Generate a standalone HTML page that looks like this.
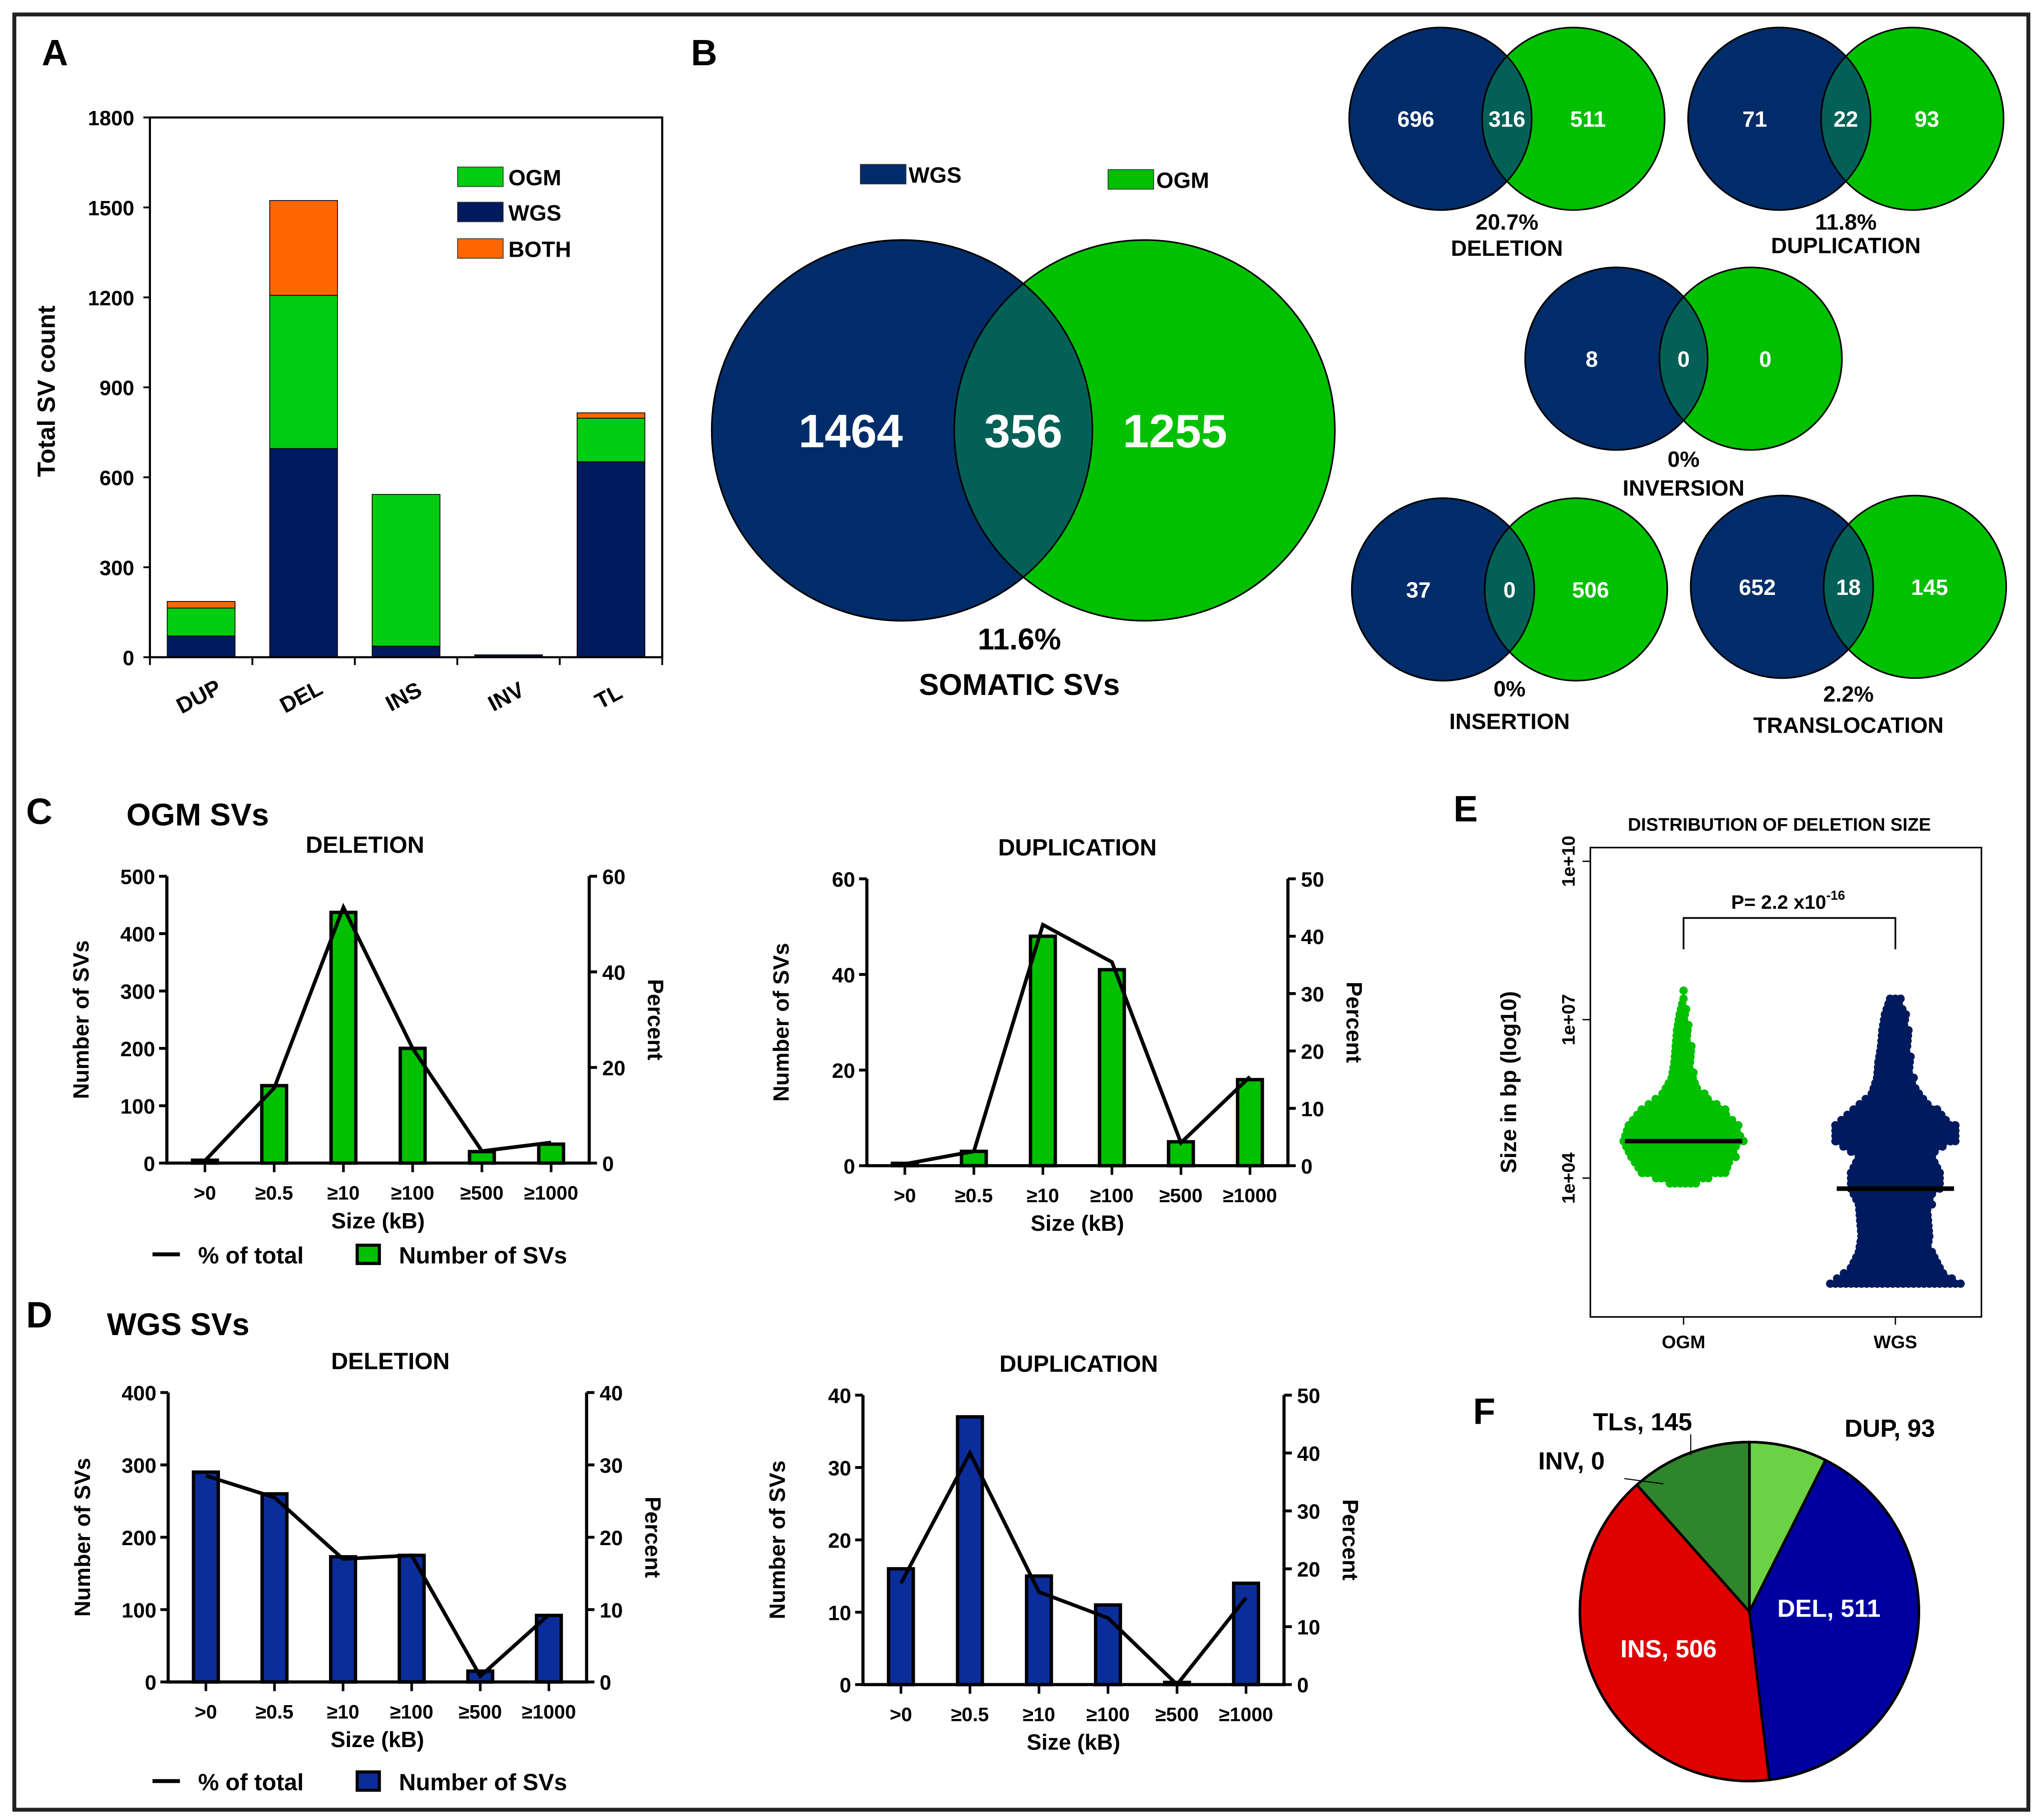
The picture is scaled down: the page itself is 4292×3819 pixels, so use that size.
<!DOCTYPE html>
<html><head><meta charset="utf-8"><style>
html,body{margin:0;padding:0;background:#fff;}
svg{display:block;}
text{font-family:"Liberation Sans",Arial,sans-serif;font-weight:bold;}
</style></head><body>
<svg id="fig" width="4292" height="3819" viewBox="0 0 1568 1395" xmlns="http://www.w3.org/2000/svg">
<rect x="11" y="11" width="1545" height="1377" fill="#fff" stroke="#222" stroke-width="3"/>
<g id="root"></g>
</svg>
<script>
// ---------- Panel A data ----------
const aCats = ["DUP","DEL","INS","INV","TL"];
const aWGS = [71,696,37,8,652];
const aOGM = [93,511,506,0,145];
const aBOTH = [22,316,0,0,18];
const aTicks = [0,300,600,900,1200,1500,1800];
// ---------- Venn data ----------
const vennNames = ["DELETION","DUPLICATION","INVERSION","INSERTION","TRANSLOCATION"];
const vennWGS = [696,71,8,37,652];
const vennBoth = [316,22,0,0,18];
const vennOGM = [511,93,0,506,145];
const vennPct = ["20.7%","11.8%","0%","0%","2.2%"];
// ---------- Size categories ----------
const sizeCats = [">0","≥0.5","≥10","≥100","≥500","≥1000"];
const cDelCounts = [5,135,437,200,20,33];
const cDelPct = [0.5,15.7,53.5,24,2.5,4.3];
const cDupCounts = [0.5,3,48,41,5,18];
const cDupPct = [0.3,2.5,42,35.5,4,15.5];
const dDelCounts = [290,260,173,175,15,92];
const dDelPct = [28.5,25.5,17,17.5,0.8,9.3];
const dDupCounts = [16,37,15,11,0.3,14];
const dDupPct = [17.5,40,16,11.5,0,15];
// ---------- Panel E ----------
const eGroups = ["OGM","WGS"];
const eMedianLog = [4.7,3.8];
const eLevels = [2.0,2.3,2.6,2.9,3.2,3.5,3.8,4.1,4.4,4.7,5.0,5.3,5.6,5.9,6.2,6.5,6.8,7.1,7.4];
const eOGMWidth = [0,0,0,0,0,0,0,32,40,46,42,32,16,9,7,6,5,3,0];
const eWGSWidth = [50,34,28,26,27,28,34,34,28,46,46,32,18,14,13,11,10,8,4];
// ---------- Panel F ----------
const fLabels = ["DUP","DEL","INS","INV","TLs"];
const fValues = [93,511,506,0,145];
const fColors = ["#6ad244","#00009e","#e00000","#2f852b","#2f852b"];

const NS="http://www.w3.org/2000/svg";
const root=document.getElementById('root');
function mk(tag,attrs,parent){const e=document.createElementNS(NS,tag);for(const k in attrs)e.setAttribute(k,attrs[k]);(parent||root).appendChild(e);return e;}
function txt(x,y,s,size,anchor,parent,fill){const e=mk('text',{x:x,y:y,'font-size':size,'text-anchor':anchor||'middle',fill:fill||'#000'},parent);e.textContent=s;return e;}

[["A",32,50],["B",530,50],["C",20,632],["D",20,1018],["E",1115,630],["F",1130,1092]].forEach(p=>{
  const t=txt(p[1],p[2],p[0],28,'start');
  
  
});

// ================= Panel A =================
(function(){
  const g=mk('g',{});
  
  
  const x0=115,x1=508,y0=504,y1=90,max=1800;
  const y=v=>y0-(v/max)*(y0-y1);
  const bw=(x1-x0)/aCats.length;
  const cx=i=>x0+bw*(i+0.5);
  aCats.forEach((c,i)=>{
    let base=0;
    [[aWGS,'#001a5e','wgs'],[aOGM,'#00cc11','ogm'],[aBOTH,'#ff6600','both']].forEach(s=>{
      const v=s[0][i]; if(v<=0) return;
      const r=mk('rect',{x:cx(i)-26,y:y(base+v),width:52,height:y(base)-y(base+v),fill:s[1],stroke:'#000','stroke-width':0.6},g);
      
      
      base+=v;
    });
    const lb=txt(cx(i)-2,540,c,17,'middle',g);
    lb.setAttribute('transform','rotate(-28 '+(cx(i)-2)+' 534)');
    
    
  });
  const fr=mk('rect',{x:x0,y:y1,width:x1-x0,height:y0-y1,fill:'none',stroke:'#000','stroke-width':1.6},g);
  
  
  for(let i=0;i<=aCats.length;i++){mk('line',{x1:x0+bw*i,x2:x0+bw*i,y1:y0,y2:y0+6,stroke:'#000','stroke-width':1.4},g);}
  aTicks.forEach(t=>{
    mk('line',{x1:x0-5,x2:x0,y1:y(t),y2:y(t),stroke:'#000','stroke-width':1.4},g);
    const tl=txt(x0-12,y(t)+6,String(t),16,'end',g);
    
    
  });
  const yt=txt(42,300,'Total SV count',19,'middle',g);
  yt.setAttribute('transform','rotate(-90 42 300)');
  
  
  [['OGM','#00cc11',128],['WGS','#001a5e',155],['BOTH','#ff6600',183]].forEach(l=>{
    const r=mk('rect',{x:351,y:l[2],width:35,height:15,fill:l[1],stroke:'#333','stroke-width':0.6},g);
    
    
    const t=txt(390,l[2]+14,l[0],17,'start',g);
    
    
  });
})();

// ================= Venn helpers =================
function venn(cxL,cxR,cy,r,vals,fs,name){
  const g=mk('g',{});
  
  
  const id='clip'+name;
  const cp=mk('clipPath',{id:id},g);
  mk('circle',{cx:cxL,cy:cy,r:r},cp);
  const a=mk('circle',{cx:cxL,cy:cy,r:r,fill:'#002d6a',stroke:'#000','stroke-width':1.2},g);
  
  
  const b=mk('circle',{cx:cxR,cy:cy,r:r,fill:'#00c000',stroke:'#000','stroke-width':1.2},g);
  
  
  const o=mk('circle',{cx:cxR,cy:cy,r:r,fill:'#026056',stroke:'#000','stroke-width':1.2,'clip-path':'url(#'+id+')'},g);
  
  
  mk('circle',{cx:cxL,cy:cy,r:r,fill:'none',stroke:'#000','stroke-width':1.2},g);
  const mid=(cxL+cxR)/2;
  const pos=[cxL-0.27*r, mid, cxR+0.16*r];
  ['wgs-only-count','shared-count','ogm-only-count'].forEach((n,i)=>{
    const t=txt(pos[i],cy+fs*0.36,String(vals[i]),fs,'middle',g,'#fff');
    
    
  });
  return g;
}
(function(){
  venn(692,878,330,146,[1464,356,1255],36,'somatic-venn');
  const l1=mk('rect',{x:660,y:126,width:35,height:15,fill:'#002d6a',stroke:'#333','stroke-width':0.6});
  
  
  const t1=txt(697,140,'WGS',17,'start');
  
  
  const l2=mk('rect',{x:850,y:130,width:35,height:15,fill:'#00c000',stroke:'#333','stroke-width':0.6});
  
  
  const t2=txt(887,144,'OGM',17,'start');
  
  
  const p=txt(782,498,'11.6%',23);
  
  
  const s=txt(782,533,'SOMATIC SVs',23);
  
  
})();
(function(){
  const geo=[[1105,1207,91,176,196],[1365,1467,91,176,194],[1240,1343,275,358,380],[1107,1209,452,534,559],[1367,1469,450,538,562]];
  vennNames.forEach((n,i)=>{
    const G=geo[i];
    venn(G[0],G[1],G[2],70,[vennWGS[i],vennBoth[i],vennOGM[i]],17,'venn-'+n.toLowerCase());
    const m=(G[0]+G[1])/2;
    const p=txt(m,G[3],vennPct[i],17);
    
    
    const t=txt(m,G[4],n,17);
    
    
  });
})();

// ================= Combo bar charts =================
function combo(cfg){
  const g=mk('g',{});
  
  
  const {x0,x1,yTop,yBot,lmax,lstep,rmax,rstep,counts,pct,color}=cfg;
  const yl=v=>yBot-(v/lmax)*(yBot-yTop);
  const yr=v=>yBot-(v/rmax)*(yBot-yTop);
  const n=sizeCats.length, sp=(x1-x0)/(n+0.1);
  const cx=i=>x0+sp*(i+0.55);
  counts.forEach((v,i)=>{
    const h=Math.max(yBot-yl(v),1);
    const r=mk('rect',{x:cx(i)-9.5,y:yBot-h,width:19,height:h,fill:color,stroke:'#000','stroke-width':2.6},g);
    
    
  });
  const pts=pct.map((v,i)=>cx(i)+','+yr(v)).join(' ');
  const pl=mk('polyline',{points:pts,fill:'none',stroke:'#000','stroke-width':2.8,'stroke-linejoin':'miter'},g);
  
  
  mk('path',{d:'M'+x0+' '+yTop+'V'+yBot+'H'+x1+'V'+yTop,fill:'none',stroke:'#000','stroke-width':2.4},g);
  for(let v=0;v<=lmax;v+=lstep){
    mk('line',{x1:x0-6,x2:x0,y1:yl(v),y2:yl(v),stroke:'#000','stroke-width':2.2},g);
    const t=txt(x0-9,yl(v)+6,String(v),16,'end',g);
    
    
  }
  for(let v=0;v<=rmax;v+=rstep){
    mk('line',{x1:x1,x2:x1+6,y1:yr(v),y2:yr(v),stroke:'#000','stroke-width':2.2},g);
    const t=txt(x1+10,yr(v)+6,String(v),16,'start',g);
    
    
  }
  sizeCats.forEach((c,i)=>{
    mk('line',{x1:cx(i),x2:cx(i),y1:yBot,y2:yBot+7,stroke:'#000','stroke-width':2},g);
    const t=txt(cx(i),yBot+28,c,15,'middle',g);
    
    
  });
  const tt=txt((x0+x1)/2+cfg.tdx,yTop-18,cfg.title,18,'middle',g);
  
  
  const xt=txt((x0+x1)/2,yBot+50,'Size (kB)',17,'middle',g);
  
  
  const ly=x0-60, lyc=(yTop+yBot)/2;
  const yt=txt(ly,lyc,'Number of SVs',17,'middle',g);
  yt.setAttribute('transform','rotate(-90 '+ly+' '+lyc+')');
  
  
  const ry=x1+45;
  const rt=txt(ry,lyc,'Percent',17,'middle',g);
  rt.setAttribute('transform','rotate(90 '+ry+' '+lyc+')');
  
  
}
combo({name:'ogm-deletion-chart',x0:128,x1:452,yTop:672,yBot:892,lmax:500,lstep:100,rmax:60,rstep:20,counts:cDelCounts,pct:cDelPct,color:'#00c000',title:'DELETION',tdx:-10});
combo({name:'ogm-duplication-chart',x0:665,x1:988,yTop:674,yBot:894,lmax:60,lstep:20,rmax:50,rstep:10,counts:cDupCounts,pct:cDupPct,color:'#00c000',title:'DUPLICATION',tdx:0});
combo({name:'wgs-deletion-chart',x0:129,x1:450,yTop:1068,yBot:1290,lmax:400,lstep:100,rmax:40,rstep:10,counts:dDelCounts,pct:dDelPct,color:'#0b2d9a',title:'DELETION',tdx:10});
combo({name:'wgs-duplication-chart',x0:662,x1:985,yTop:1070,yBot:1292,lmax:40,lstep:10,rmax:50,rstep:10,counts:dDupCounts,pct:dDupPct,color:'#0b2d9a',title:'DUPLICATION',tdx:4});
(function(){
  const h1=txt(97,633,'OGM SVs',24,'start');
  
  
  const h2=txt(82,1024,'WGS SVs',24,'start');
  
  
  [[962,'#00c000'],[1366,'#0b2d9a']].forEach((L,i)=>{
    mk('line',{x1:117,x2:138,y1:L[0],y2:L[0],stroke:'#000','stroke-width':3});
    const t=txt(152,L[0]+7,'% of total',18,'start');
    t.setAttribute('font-weight','normal');
    
    
    const r=mk('rect',{x:274,y:L[0]-7,width:17,height:14,fill:L[1],stroke:'#000','stroke-width':2.4});
    
    
    const t2=txt(306,L[0]+7,'Number of SVs',18,'start');
    t2.setAttribute('font-weight','normal');
    
    
  });
})();

// ================= Panel E =================
(function(){
  const g=mk('g',{});
  
  
  const bx0=1220,bx1=1520,by0=650,by1=1010;
  const y=l=>903.5-(l-4)*40.5;
  const gx=[1291.5,1454];
  const tt=txt(1365,637,'DISTRIBUTION OF DELETION SIZE',14,'middle',g);
  
  
  const cols=['#00c000','#001a5e'];
  [eOGMWidth,eWGSWidth].forEach((W,gi)=>{
    const sg=mk('g',{fill:cols[gi]},g);
    
    
    for(let k=0;k<eLevels.length-1;k++){
      const w0=W[k],w1=W[k+1];
      if(w0<=0&&w1<=0)continue;
      const ya=y(eLevels[k]),yb=y(eLevels[k+1]);
      for(let yy=ya;yy>yb;yy-=4){
        const f=(ya-yy)/(ya-yb);
        const w=w0+(w1-w0)*f;
        if(w<=0)continue;
        for(let xx=-w;xx<=w;xx+=4){mk('circle',{cx:gx[gi]+xx,cy:yy,r:3.2},sg);}
      }
    }
    const m=mk('line',{x1:gx[gi]-45,x2:gx[gi]+45,y1:y(eMedianLog[gi]),y2:y(eMedianLog[gi]),stroke:'#000','stroke-width':3.5},g);
    
    
    mk('line',{x1:gx[gi],x2:gx[gi],y1:by1,y2:by1+6,stroke:'#000','stroke-width':1},g);
    const xl=txt(gx[gi],1034,eGroups[gi],14,'middle',g);
    
    
  });
  mk('circle',{cx:gx[0],cy:y(7.55),r:3.2,fill:'#00c000'},g);
  const fr=mk('rect',{x:bx0,y:by0,width:bx1-bx0,height:by1-by0,fill:'none',stroke:'#000','stroke-width':1.2},g);
  
  
  [[10,'1e+10'],[7,'1e+07'],[4,'1e+04']].forEach(t=>{
    mk('line',{x1:bx0-6,x2:bx0,y1:y(t[0]),y2:y(t[0]),stroke:'#000','stroke-width':1},g);
    const l=txt(1208,y(t[0]),t[1],14,'middle',g);
    l.setAttribute('font-weight','normal');
    l.setAttribute('transform','rotate(-90 1208 '+y(t[0])+')');
    
    
  });
  const yt=txt(1163,830,'Size in bp (log10)',17,'middle',g);
  yt.setAttribute('transform','rotate(-90 1163 830)');
  
  
  const br=mk('path',{d:'M'+gx[0]+' 728V704H'+gx[1]+'V728',fill:'none',stroke:'#000','stroke-width':1.3},g);
  
  
  const pv=mk('text',{x:1328,y:697,'font-size':15},g);
  pv.textContent='P= 2.2 x10';
  const sup=mk('tspan',{dy:-7,'font-size':10},pv);
  sup.textContent='-16';
  
  
})();

// ================= Panel F =================
(function(){
  const g=mk('g',{});
  
  
  const cx=1342,cy=1236,r=130;
  const tot=fValues.reduce((a,b)=>a+b,0);
  let a0=0;
  fValues.forEach((v,i)=>{
    const a1=a0+v/tot*2*Math.PI;
    if(v>0){
      const p0=[cx+r*Math.sin(a0),cy-r*Math.cos(a0)],p1=[cx+r*Math.sin(a1),cy-r*Math.cos(a1)];
      const lg=(a1-a0)>Math.PI?1:0;
      const s=mk('path',{d:'M'+cx+' '+cy+'L'+p0[0]+' '+p0[1]+'A'+r+' '+r+' 0 '+lg+' 1 '+p1[0]+' '+p1[1]+'Z',fill:fColors[i],stroke:'#000','stroke-width':2},g);
      
      
    }
    a0=a1;
  });
  const labs=[[1415,1102,'start','#000'],[1403,1240,'middle','#fff'],[1280,1271,'middle','#fff'],[1180,1127,'start','#000'],[1222,1097,'start','#000']];
  fLabels.forEach((l,i)=>{
    const t=txt(labs[i][0],labs[i][1],l+', '+fValues[i],19,labs[i][2],g,labs[i][3]);
    
    
  });
  mk('line',{x1:1246,x2:1276,y1:1134,y2:1138,stroke:'#000','stroke-width':0.8},g);
  mk('line',{x1:1297,x2:1297,y1:1100,y2:1116,stroke:'#000','stroke-width':0.8},g);
})();
</script>
</body></html>
